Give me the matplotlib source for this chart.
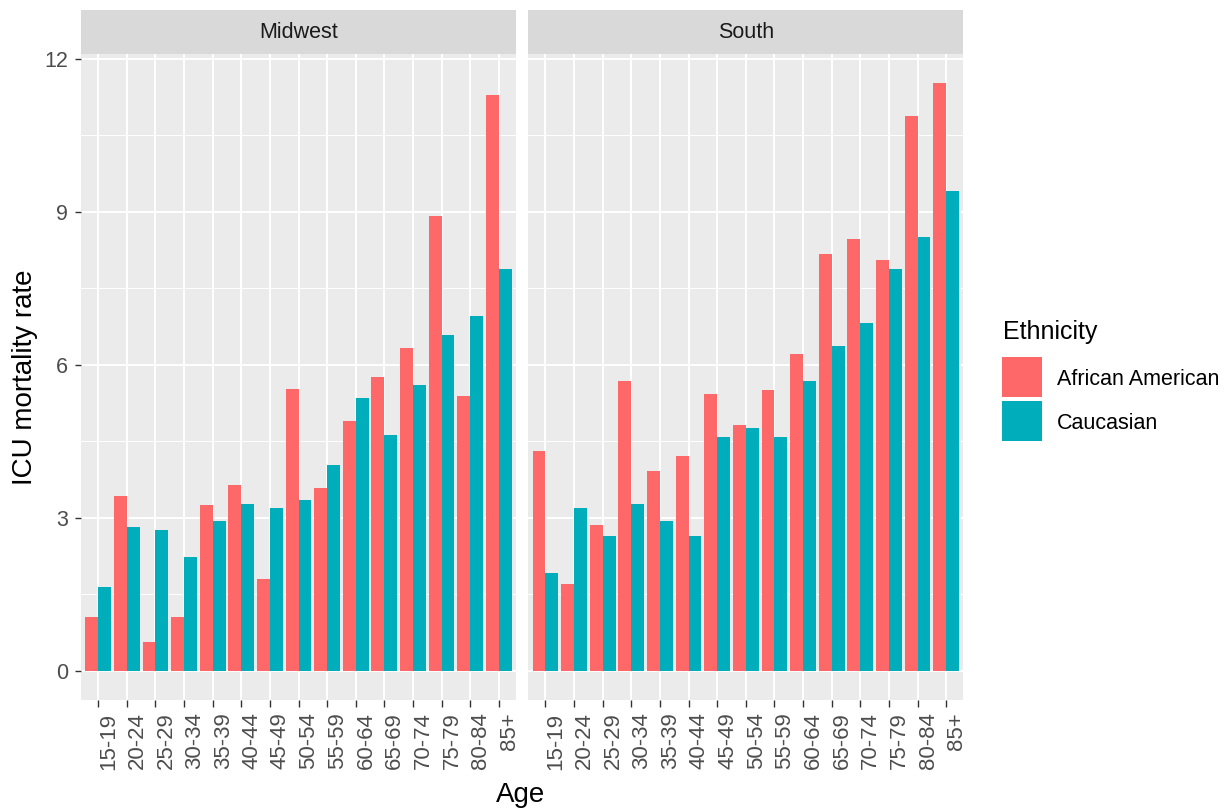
import numpy as np
import matplotlib
matplotlib.use("Agg")
import matplotlib.pyplot as plt
import matplotlib.transforms as mtransforms
from matplotlib.patches import Rectangle

plt.rcParams['font.family'] = ['Liberation Sans', 'DejaVu Sans']

ages = ["15-19", "20-24", "25-29", "30-34", "35-39", "40-44", "45-49", "50-54",
        "55-59", "60-64", "65-69", "70-74", "75-79", "80-84", "85+"]
regions = ["Midwest", "South"]
groups = ["African American", "Caucasian"]

midwest_aa = [1.05, 3.42, 0.56, 1.05, 3.24, 3.65, 1.80, 5.53, 3.58, 4.89, 5.76, 6.32, 8.92, 5.38, 11.29]
midwest_cau = [1.65, 2.82, 2.75, 2.22, 2.94, 3.27, 3.20, 3.35, 4.03, 5.35, 4.63, 5.61, 6.59, 6.96, 7.88]
south_aa = [4.30, 1.70, 2.86, 5.69, 3.92, 4.22, 5.42, 4.82, 5.50, 6.22, 8.17, 8.47, 8.06, 10.88, 11.52]
south_cau = [1.92, 3.20, 2.64, 3.27, 2.94, 2.64, 4.59, 4.75, 4.59, 5.69, 6.36, 6.81, 7.88, 8.51, 9.41]

colors = ["#FF6868", "#00AEBB"]
data = {"Midwest": [midwest_aa, midwest_cau], "South": [south_aa, south_cau]}

W, H = 1225, 811
fig = plt.figure(figsize=(W / 100, H / 100), dpi=100)

ymax = max(max(v) for r in data.values() for v in r)
ylim = (-0.05 * ymax, ymax * 1.05)
x = np.arange(1, len(ages) + 1)

panel_left = [81, 528.3]
panel_w = 435
top, bottom = 54, 700
shift = mtransforms.ScaledTranslation(3 / 100, 0, fig.dpi_scale_trans)

for i, region in enumerate(regions):
    ax = fig.add_axes([panel_left[i] / W, 1 - bottom / H, panel_w / W, (bottom - top) / H])
    ax.set_facecolor("#EBEBEB")
    for s in ax.spines.values():
        s.set_visible(False)
    ax.set_xlim(0.4, len(ages) + 0.6)
    ax.set_ylim(*ylim)
    ax.set_yticks([0, 3, 6, 9, 12])
    ax.set_yticks([1.5, 4.5, 7.5, 10.5], minor=True)
    ax.grid(True, which="major", color="white", lw=1.4)
    ax.grid(True, which="minor", axis="y", color="white", lw=0.7)
    ax.set_axisbelow(True)
    for j, vals in enumerate(data[region]):
        ax.bar(x - 0.225 + 0.45 * j, vals, width=0.45, color=colors[j], lw=0)
    ax.set_xticks(x)
    ax.set_xticklabels(ages, rotation=90, ha="left", va="top", fontsize=16, color="#4D4D4D")
    for lab in ax.get_xticklabels():
        lab.set_transform(lab.get_transform() + shift)
    ax.tick_params(axis="x", length=5, width=1, color="#333333", pad=4)
    ax.tick_params(axis="y", which="minor", length=0)
    if i == 0:
        ax.tick_params(axis="y", length=4.5, width=1, color="#333333", labelsize=15.5,
                       labelcolor="#4D4D4D", pad=5)
    else:
        ax.tick_params(axis="y", length=0, labelleft=False)

    sax = fig.add_axes([panel_left[i] / W, 1 - top / H, panel_w / W, 44 / H])
    sax.set_facecolor("#D9D9D9")
    sax.set_xticks([])
    sax.set_yticks([])
    for s in sax.spines.values():
        s.set_visible(False)
    sax.text(0.5, 0.5, region, ha="center", va="center", fontsize=15.5, color="#1A1A1A",
             transform=sax.transAxes)

fig.text(25 / W, 1 - 377 / H, "ICU mortality rate", rotation=90, ha="center", va="center",
         fontsize=20, color="black")
fig.text(521 / W, 1 - 795 / H, "Age", ha="center", va="center", fontsize=20, color="black")

# legend
fig.text(1003 / W, 1 - 339 / H, "Ethnicity", ha="left", va="baseline", fontsize=18, color="black")
key_tops = [357, 401]
for k, (name, c) in enumerate(zip(groups, colors)):
    fig.patches.append(Rectangle((1002 / W, 1 - (key_tops[k] + 40) / H), 40 / W, 40 / H,
                                 transform=fig.transFigure, facecolor=c, edgecolor="none"))
    fig.text(1057 / W, 1 - (key_tops[k] + 28) / H, name, ha="left", va="baseline",
             fontsize=15.5, color="black")

fig.savefig("out.png", dpi=100)
